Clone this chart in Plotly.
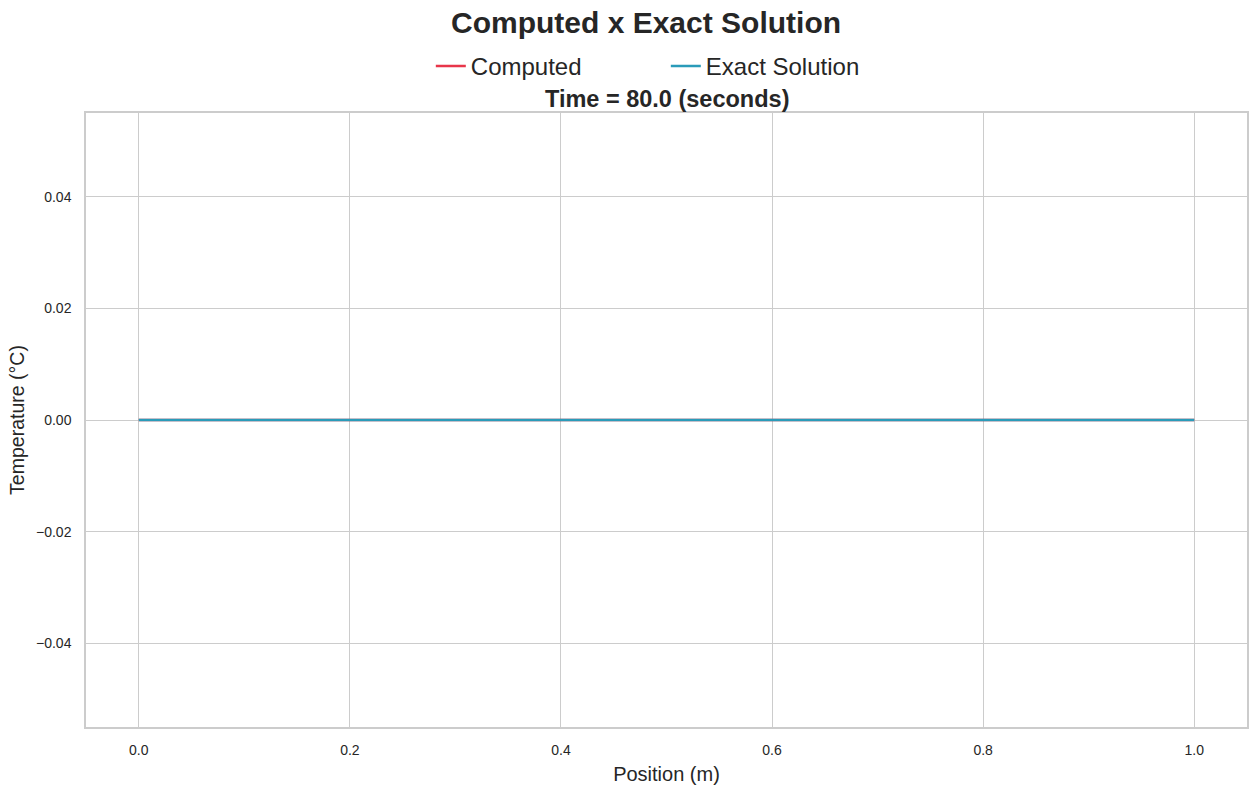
import plotly.graph_objects as go

positions = [0.0, 0.1, 0.2, 0.3, 0.4, 0.5, 0.6, 0.7, 0.8, 0.9, 1.0]
computed = [0.0, 0.0, 0.0, 0.0, 0.0, 0.0, 0.0, 0.0, 0.0, 0.0, 0.0]
exact = [0.0, 0.0, 0.0, 0.0, 0.0, 0.0, 0.0, 0.0, 0.0, 0.0, 0.0]
x_ticks = [0.0, 0.2, 0.4, 0.6, 0.8, 1.0]
y_ticks = [-0.04, -0.02, 0.0, 0.02, 0.04]

FONT = "Liberation Sans, Arial, sans-serif"
TXT = "#262626"

fig = go.Figure()
fig.add_trace(go.Scatter(x=positions, y=computed, mode="lines", name="Computed",
                         line=dict(color="#e8364a", width=2.5)))
fig.add_trace(go.Scatter(x=positions, y=exact, mode="lines", name="Exact Solution",
                         line=dict(color="#2a9bb9", width=2.5)))

axis_common = dict(showgrid=True, gridcolor="#cccccc", gridwidth=1,
                   showline=True, linecolor="#cccccc", linewidth=1.5, mirror=True,
                   zeroline=False, ticks="", tickfont=dict(family=FONT, size=14, color=TXT))

fig.update_layout(
    width=1258, height=791,
    margin=dict(l=86, r=9, t=113, b=62),
    paper_bgcolor="white", plot_bgcolor="white",
    font=dict(family=FONT, color=TXT),
    showlegend=True,
    legend=dict(orientation="h", x=0.297, xanchor="left", y=1.076, yanchor="middle",
                font=dict(family=FONT, size=24, color=TXT),
                entrywidth=190, entrywidthmode="pixels",
                bgcolor="rgba(0,0,0,0)"),
    xaxis=dict(range=[-0.05, 1.05], tickvals=x_ticks, tickformat=".1f",
               ticklabelstandoff=9,
               title=dict(text="Position (m)", font=dict(family=FONT, size=20, color=TXT), standoff=10),
               **axis_common),
    yaxis=dict(range=[-0.055, 0.055], tickvals=y_ticks, tickformat=".2f",
               ticklabelstandoff=10,
               title=dict(text="Temperature (°C)", font=dict(family=FONT, size=19.5, color=TXT), standoff=6),
               **axis_common),
    annotations=[
        dict(text="<b>Computed x Exact Solution</b>", xref="paper", yref="paper",
             x=0.482, y=1.148, xanchor="center", yanchor="middle", showarrow=False,
             font=dict(family=FONT, size=30, color=TXT)),
        dict(text="<b>Time = 80.0 (seconds)</b>", xref="paper", yref="paper",
             x=0.5, y=1.023, xanchor="center", yanchor="middle", showarrow=False,
             font=dict(family=FONT, size=23.5, color=TXT)),
    ],
)

fig.write_html("out.html")
